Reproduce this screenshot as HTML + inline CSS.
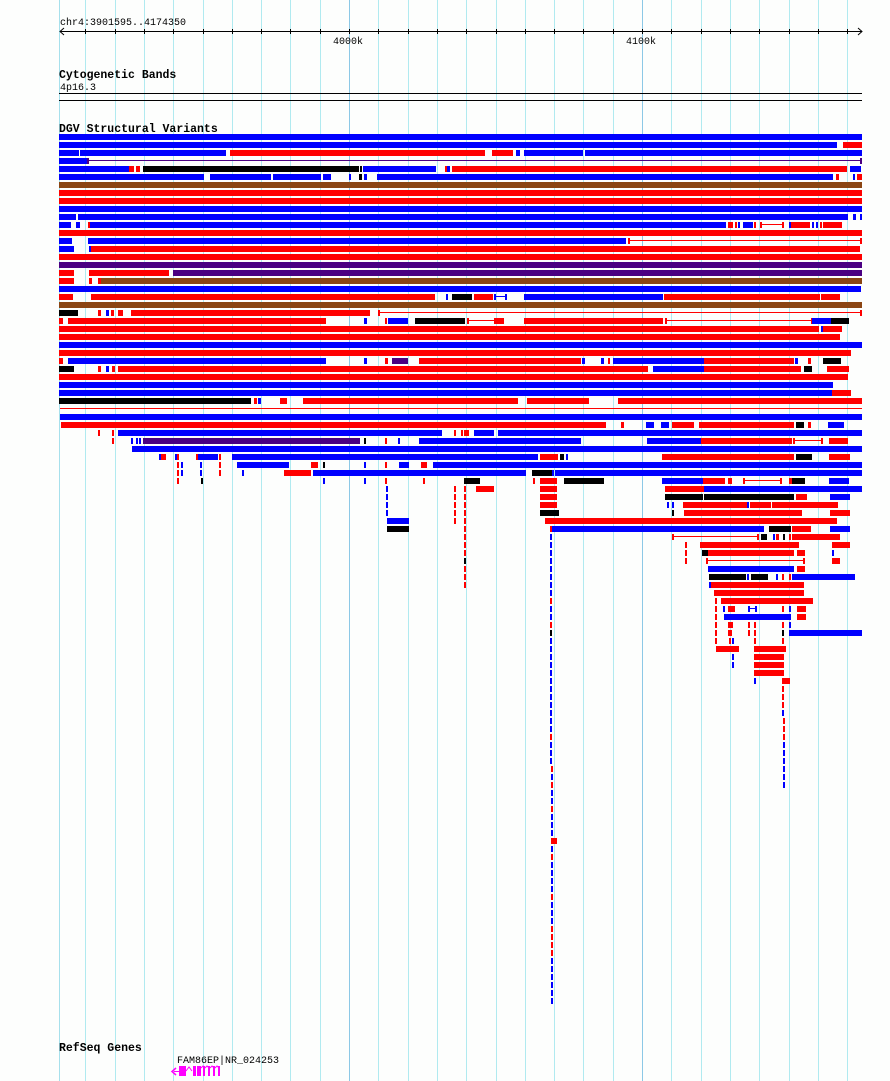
<!DOCTYPE html>
<html><head><meta charset="utf-8">
<style>
html,body{margin:0;padding:0;background:#fdfefd;}
svg{display:block;}
text{font-family:"Liberation Mono",monospace;fill:#000;}
</style></head>
<body>
<svg id="s" width="890" height="1081" xmlns="http://www.w3.org/2000/svg">
<rect width="890" height="1081" fill="#fdfefd"/>
<g id="grid"></g>
<text x="60" y="25" font-size="10">chr4:3901595..4174350</text>
<line x1="60" y1="31.5" x2="862" y2="31.5" stroke="#000" stroke-width="1"/>
<polyline points="64,28 60,31.5 64,35" fill="none" stroke="#000"/>
<polyline points="858,28 862,31.5 858,35" fill="none" stroke="#000"/>
<g id="ticks"></g>
<text x="333" y="44" font-size="10">4000k</text>
<text x="626" y="44" font-size="10">4100k</text>
<text x="59" y="78" font-size="11.5" font-weight="bold">Cytogenetic Bands</text>
<text x="60" y="90" font-size="10">4p16.3</text>
<rect x="59" y="93" width="803" height="1" fill="#000"/>
<rect x="59" y="100" width="803" height="1" fill="#000"/>
<text x="59" y="132" font-size="11.5" font-weight="bold">DGV Structural Variants</text>
<g id="feat"></g>
<text x="59" y="1051" font-size="11.5" font-weight="bold">RefSeq Genes</text>
<text x="177" y="1063" font-size="10">FAM86EP|NR_024253</text>
<g fill="#ff00ff">
<rect x="174" y="1071" width="10" height="1"/>
<polyline points="176,1068 172,1071.5 176,1075" fill="none" stroke="#ff00ff" stroke-width="1.5"/>
<rect x="179" y="1066" width="4" height="10"/>
<rect x="183" y="1066" width="3" height="10"/>
<polyline points="186,1071 189,1067 192,1071" fill="none" stroke="#ff00ff"/>
<rect x="193" y="1066" width="3" height="10"/>
<rect x="197" y="1066" width="2" height="10"/>
<rect x="199" y="1066" width="2" height="10"/>
<polyline points="201,1068 203,1066 205,1068" fill="none" stroke="#ff00ff"/>
<rect x="203" y="1066" width="2" height="10"/>
<polyline points="205,1068 207,1066 209,1068" fill="none" stroke="#ff00ff"/>
<rect x="208" y="1066" width="2" height="10"/>
<polyline points="210,1068 212,1066 214,1068" fill="none" stroke="#ff00ff"/>
<rect x="213" y="1066" width="2" height="10"/>
<polyline points="215,1068 217,1066 219,1068" fill="none" stroke="#ff00ff"/>
<rect x="218" y="1066" width="2" height="10"/>
</g>
</svg>
<script>
var NS="http://www.w3.org/2000/svg";
function R(g,x,y,w,h,c){var r=document.createElementNS(NS,"rect");r.setAttribute("x",x);r.setAttribute("y",y);r.setAttribute("width",w);r.setAttribute("height",h);r.setAttribute("fill",c);g.appendChild(r);}
var grid=document.getElementById("grid"),ticks=document.getElementById("ticks");
R(grid,59,0,1,1081,"#a6e0ec");
for(var k=-9;k<=17;k++){var x=Math.round(349+k*29.3);R(grid,x,0,1,1081,(k==0||k==10)?"#8cc8e6":"#b0eaf0");R(ticks,x,29,1,5,"#000");}
var C={b:"#0000ff",r:"#ff0000",k:"#000000",n:"#8b4513",p:"#4b0082"};
var rows=[
[134,"b59-862"],
[142,"b59-836 r843-862"],
[150,"b59-78 b80-225 r230-484 r492-512 b516-519 b524-582 b585-862"],
[158,"b59-86 P87-862"],
[166,"b59-128 r129-133 r136-139 k143-358 k360-361 b363-435 r445-446 b447-449 r452-494 r495-846 b850-860"],
[174,"b59-203 b210-270 b273-320 b323-330 b349-350 k359-361 b364-366 b377-832 r836-838 b853-854 r857-862"],
[182,"n59-862"],[190,"r59-862"],[198,"r59-862"],[206,"b59-862"],
[214,"b59-75 b78-847 b853-855 b860-862"],
[222,"b59-70 b76-79 r88-89 b90-725 r728-732 r735-736 b738-739 b743-752 r754-755 R760-783 b789-790 r791-809 b812-813 b816-817 r820-821 r823-841"],
[230,"r59-861"],
[238,"b59-71 b88-90 b91-625 R628-862"],
[246,"b59-73 b89-91 r91-859"],
[254,"r59-861"],[262,"p59-862"],
[270,"r59-73 r89-168 p173-862"],
[278,"r59-73 r89-91 r98-100 n101-862"],
[286,"b59-860"],
[294,"r59-72 r91-434 b446-447 k452-471 r474-492 B494-506 b524-662 r664-812 r813-819 r821-839"],
[302,"n59-862"],
[310,"k59-77 r98-100 b106-108 r111-113 r118-122 r131-369 R378-862"],
[318,"r59-62 r68-325 b364-366 r385-386 b388-407 k415-464 R467-495 r495-503 r524-662 R665-812 b812-830 k831-848"],
[326,"r59-818 b821-822 r823-841"],
[334,"r59-839"],[342,"b59-862"],
[350,"r59-847 r848-850"],
[358,"r59-62 b68-325 b364-366 r385-387 p392-407 r419-580 b582-584 b601-603 r608-609 b613-703 r704-793 b795-797 r808-810 k823-840"],
[366,"k59-73 r98-100 b106-108 r112-114 r118-647 b653-703 r704-800 k804-811 r827-848"],
[374,"r59-847"],[382,"b59-832"],
[390,"b59-831 r832-850"],
[398,"k59-250 r254-256 b258-260 r280-286 r303-517 r527-588 r618-862"],
[406,"L60-861"],
[414,"b60-862"],
[422,"r61-605 r621-623 b646-653 b661-668 r672-693 r699-793 k796-803 r808-810 b828-843"],
[430,"r98-99 r112-113 b118-441 r454-455 r461-462 r464-468 b474-493 b498-862"],
[438,"r112-113 b131-132 b136-137 b139-140 p143-359 k364-365 r385-386 b398-399 b419-580 b647-700 r701-791 R793-822 r829-847"],
[446,"b132-862"],
[454,"b159-160 r161-165 b175-176 r177-178 r196-197 b198-217 r219-220 b232-537 r540-557 k560-563 b566-567 r662-702 r703-793 k796-811 r829-849"],
[462,"r177-178 b181-182 b200-201 r219-220 b237-288 r311-317 k323-324 b364-365 r385-386 b399-408 r421-426 b433-862"],
[470,"r177-178 b181-182 b200-201 r219-220 b242-243 r284-310 b313-525 k532-551 b552-553 b555-862"],
[478,"r177-178 k201-202 b323-324 b364-365 r385-386 r423-424 k464-479 r533-534 r540-556 k564-603 b662-702 r703-724 r728-731 R743-781 r789-791 k792-804 b829-848"],
[486,"b386-387 r454-455 r464-465 r476-493 r540-556 r665-703 b704-862"],
[494,"b386-387 r454-455 r464-465 r540-556 k665-693 k694-702 k704-793 r796-806 b830-849"],
[502,"b386-387 r454-455 r464-465 r540-556 b667-668 b672-673 r683-746 b747-748 r750-770 r772-837"],
[510,"b386-387 r454-455 r464-465 k540-558 k672-673 r684-801 r830-849"],
[518,"b387-408 r454-455 r464-465 r545-836"],
[526,"k387-408 r464-465 r550-551 b552-763 k769-790 r792-810 b830-849"],
[534,"r464-465 b550-551 R672-758 k761-766 b773-774 r776-778 k783-784 r789-790 r792-839"],
[542,"r464-465 b550-551 r685-686 r700-798 r832-849"],
[550,"r464-465 b550-551 r685-686 k702-707 r708-793 r797-804 b832-833"],
[558,"k464-465 b550-551 r685-686 R706-804 r832-839"],
[566,"r464-465 b550-551 b708-793 r797-804"],
[574,"r464-465 b550-551 k709-721 k722-745 b747-748 k751-767 b776-777 r782-783 r789-790 b792-854"],
[582,"r464-465 b550-551 b709-710 r711-803"],
[590,"b550-551 r714-803"],
[598,"r550-551 r715-716 r721-812"],
[606,"b550-551 r715-716 b723-724 r728-734 B748-756 r782-783 b789-790 r797-805"],
[614,"b550-551 r715-716 b724-790 r797-805"],
[622,"r550-551 r715-716 r728-732 r748-749 r754-755 r782-783 b789-790"],
[630,"k550-551 r715-716 r728-731 r748-749 r754-755 k782-783 b789-862"],
[638,"b550-551 r715-716 r729-730 b732-733 r754-755 r782-783"],
[646,"b550-551 r716-738 r754-785"],
[654,"b550-551 b732-733 r754-783"],
[662,"b550-551 b732-733 r754-783"],
[670,"b550-551 r754-783"],
[678,"b550-551 b754-755 r782-789"],
[686,"b550-551 r782-783"],
[694,"b550-551 r782-783"],
[702,"b550-551 r782-783"],
[710,"b550-551 b782-783"],
[718,"b550-551 r783-784"],
[726,"b550-551 r783-784"],
[734,"r550-551 r783-784"],
[742,"b550-551 b783-784"],
[750,"b550-551 b783-784"],
[758,"b550-551 b783-784"],
[766,"r551-552 b783-784"],
[774,"b551-552 b783-784"],
[782,"r551-552 b783-784"],
[790,"b551-552"],[798,"b551-552"],[806,"r551-552"],[814,"b551-552"],[822,"b551-552"],[830,"b551-552"],
[838,"r551-556"],[846,"b551-552"],[854,"r551-552"],[862,"b551-552"],[870,"b551-552"],[878,"b551-552"],
[886,"b551-552"],[894,"r551-552"],[902,"b551-552"],[910,"b551-552"],[918,"b551-552"],[926,"r551-552"],
[934,"r551-552"],[942,"r551-552"],[950,"r551-552"],[958,"b551-552"],[966,"b551-552"],[974,"b551-552"],
[982,"b551-552"],[990,"b551-552"],[998,"b551-552"]
];
var f=document.getElementById("feat");
rows.forEach(function(r){var y=r[0];r[1].split(" ").forEach(function(t){
 var c=t[0],m=t.slice(1).split("-"),a=+m[0],b=Math.min(861,+m[1]),w=Math.max(1,b-a+1);
 if(c=="R"||c=="P"||c=="B"){var col=c=="R"?"#ff0000":c=="P"?"#4b0082":"#0000ff";R(f,a,y+2,w,1,col);R(f,a,y,2,6,col);R(f,b-1,y,2,6,col);}
 else if(c=="L"){R(f,a,y+2,w,1,"#ff0000");}
 else R(f,a,y,w,6,C[c]);
});});
</script>
</body></html>
